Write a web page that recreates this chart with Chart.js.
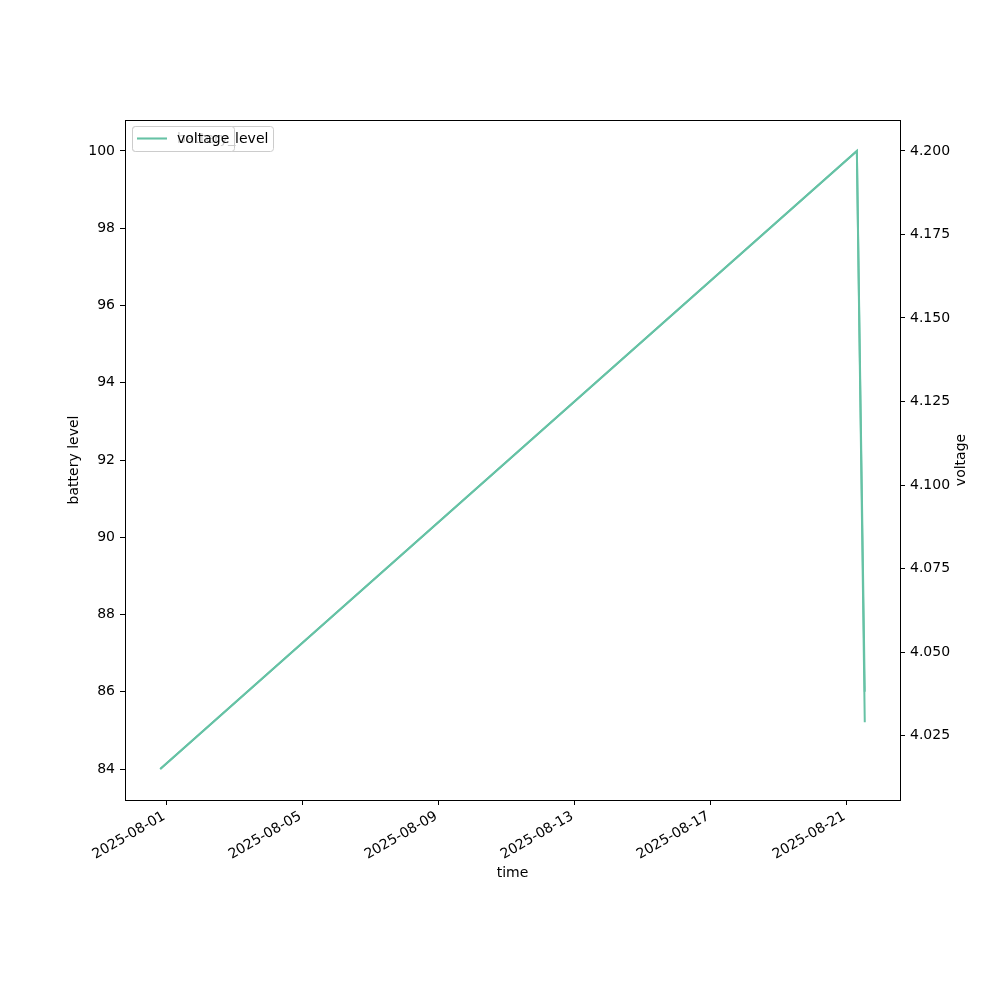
<!DOCTYPE html>
<html>
<head>
<meta charset="utf-8">
<script src="https://cdn.jsdelivr.net/npm/chart.js"></script>
<style>
  html, body { margin: 0; padding: 0; background: #fff; }
  #wrap { width: 1000px; height: 1000px; }
</style>
</head>
<body>
<div id="wrap"><canvas id="chart" width="1000" height="1000"></canvas></div>
<script>
// values
const times = ['2025-07-31T19:45:00Z', '2025-08-21T07:25:00Z', '2025-08-21T13:00:00Z'];
const batteryLevel = [84, 100, 86];
const voltage = [4.015, 4.200, 4.029];
const xTickDates = ['2025-08-01', '2025-08-05', '2025-08-09', '2025-08-13', '2025-08-17', '2025-08-21'];
const leftTicks = [84, 86, 88, 90, 92, 94, 96, 98, 100];
const rightTicks = [4.025, 4.050, 4.075, 4.100, 4.125, 4.150, 4.175, 4.200];

const DAY = 86400000;
const origin = Date.parse('2025-08-01T00:00:00Z');
const toDay = (s) => (Date.parse(s.length > 10 ? s : s + 'T00:00:00Z') - origin) / DAY;
const dayLabel = (v) => new Date(origin + v * DAY).toISOString().slice(0, 10);

const xs = times.map(toDay);
const pad = (lo, hi) => { const m = (hi - lo) * 0.05; return [lo - m, hi + m]; };
const [xMin, xMax] = pad(Math.min(...xs), Math.max(...xs));
const [lMin, lMax] = pad(Math.min(...batteryLevel), Math.max(...batteryLevel));
const [rMin, rMax] = pad(Math.min(...voltage), Math.max(...voltage));

const FONT = 'DejaVu Sans';
const LINE = '#66c2a5';

const frameAndText = {
    id: 'frameAndText',
    afterDraw(chart) {
        const { ctx, chartArea: a } = chart;
        ctx.save();
        ctx.strokeStyle = '#000'; ctx.lineWidth = 1;
        ctx.strokeRect(Math.round(a.left) + 0.5, Math.round(a.top) + 0.5, Math.round(a.right - a.left), Math.round(a.bottom - a.top));
        ctx.fillStyle = '#000';
        ctx.font = `14px "${FONT}"`;
        ctx.textAlign = 'center'; ctx.textBaseline = 'middle';
        ctx.fillText('time', (a.left + a.right) / 2, a.bottom + 73);
        ctx.save(); ctx.translate(a.left - 51, (a.top + a.bottom) / 2); ctx.rotate(-Math.PI / 2);
        ctx.fillText('battery level', 0, 0); ctx.restore();
        ctx.save(); ctx.translate(a.right + 61, (a.top + a.bottom) / 2); ctx.rotate(-Math.PI / 2);
        ctx.fillText('voltage', 0, 0); ctx.restore();
        // two legends stacked at upper left, like the twin axes do
        const legend = (label, w) => {
            const x = a.left + 7, y = a.top + 6, h = 25, r = 3;
            ctx.beginPath();
            ctx.roundRect(x + 0.5, y + 0.5, w, h, r);
            ctx.fillStyle = 'rgba(255,255,255,0.8)'; ctx.fill();
            ctx.strokeStyle = '#cccccc'; ctx.lineWidth = 1; ctx.stroke();
            ctx.beginPath(); ctx.moveTo(x + 5, y + 12.5); ctx.lineTo(x + 35, y + 12.5);
            ctx.strokeStyle = LINE; ctx.lineWidth = 2; ctx.stroke();
            ctx.fillStyle = '#000'; ctx.textAlign = 'left';
            ctx.fillText(label, x + 45, y + 13);
        };
        legend('battery_level', 141);
        legend('voltage', 102);
        ctx.restore();
    }
};

const tickStyle = { color: '#000', font: { family: FONT, size: 14 } };
const gridStyle = { drawOnChartArea: false, drawTicks: true, tickLength: 5, color: '#000', tickWidth: 1 };

new Chart(document.getElementById('chart'), {
    type: 'line',
    data: {
        datasets: [
            { label: 'battery_level', data: xs.map((x, i) => ({ x, y: batteryLevel[i] })), yAxisID: 'y',
              borderColor: LINE, borderWidth: 2, pointRadius: 0, tension: 0 },
            { label: 'voltage', data: xs.map((x, i) => ({ x, y: voltage[i] })), yAxisID: 'y1',
              borderColor: LINE, borderWidth: 2, pointRadius: 0, tension: 0 }
        ]
    },
    options: {
        responsive: false,
        animation: false,
        layout: { padding: { top: 120, left: 0, right: 0, bottom: 0 } },
        plugins: { legend: { display: false }, tooltip: { enabled: false } },
        scales: {
            x: {
                type: 'linear', min: xMin, max: xMax,
                afterBuildTicks: (s) => { s.ticks = xTickDates.map((d) => ({ value: toDay(d) })); },
                afterFit: (s) => { s.height = 200; },
                ticks: { ...tickStyle, autoSkip: false, minRotation: 30, maxRotation: 30, padding: 3, labelOffset: -2,
                         callback: (v) => dayLabel(v) },
                grid: gridStyle, border: { display: false }
            },
            y: {
                position: 'left', min: lMin, max: lMax,
                afterBuildTicks: (s) => { s.ticks = leftTicks.map((v) => ({ value: v })); },
                afterFit: (s) => { s.width = 125; },
                ticks: { ...tickStyle, padding: 5, callback: (v) => String(v) },
                grid: gridStyle, border: { display: false }
            },
            y1: {
                position: 'right', min: rMin, max: rMax,
                afterBuildTicks: (s) => { s.ticks = rightTicks.map((v) => ({ value: v })); },
                afterFit: (s) => { s.width = 100; },
                ticks: { ...tickStyle, padding: 5, callback: (v) => v.toFixed(3) },
                grid: gridStyle, border: { display: false }
            }
        }
    },
    plugins: [frameAndText]
});
</script>
</body>
</html>
